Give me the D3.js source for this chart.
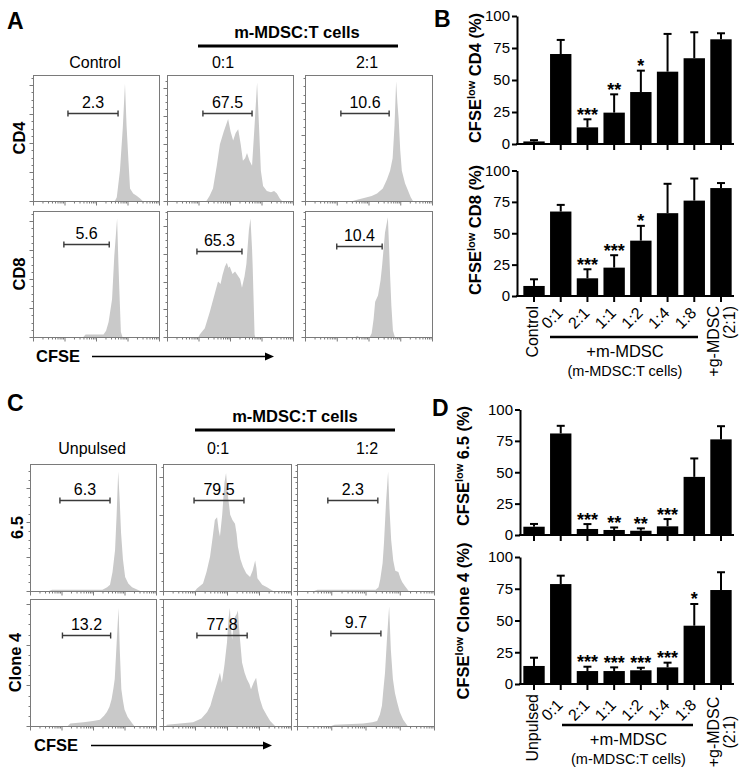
<!DOCTYPE html>
<html><head><meta charset="utf-8">
<script src="https://cdn.jsdelivr.net/npm/d3@7"></script>
<style>
body{margin:0;background:#fff}
svg{display:block}
text{font-family:"Liberation Sans",Arial,Helvetica,sans-serif;fill:#000}
</style>
</head><body>
<svg id="c" width="751" height="778"></svg>
<script>
// ================= DATA =================
// Bar charts (B, D)
const yTickValues = [0, 25, 50, 75, 100];
const catsB = ["Control", "0:1", "2:1", "1:1", "1:2", "1:4", "1:8", "+g-MDSC"];
const catsD = ["Unpulsed", "0:1", "2:1", "1:1", "1:2", "1:4", "1:8", "+g-MDSC"];
const cd4Mean = [2, 70.3, 13, 24.5, 40.6, 56.5, 67, 81.8];
const cd4Err  = [1, 11, 6.3, 14.3, 16.7, 29.5, 20.3, 4.7];
const cd4Sig  = ["", "", "***", "**", "*", "", "", ""];
const cd8Mean = [8, 67.3, 14.1, 22.6, 44.1, 66, 76, 86];
const cd8Err  = [5.3, 5.3, 7.2, 9.9, 11.8, 23.4, 17.6, 4];
const cd8Sig  = ["", "", "***", "***", "*", "", "", ""];
const t65Mean = [6.6, 80.9, 4.8, 4, 3.4, 6.9, 46.3, 76.2];
const t65Err  = [2.2, 6.1, 3.9, 2, 1.9, 5.8, 14.7, 10.5];
const t65Sig  = ["", "", "***", "**", "**", "***", "", ""];
const c4Mean  = [14.2, 78.7, 10.2, 10.2, 10.8, 13.1, 45.9, 74];
const c4Err   = [6.5, 6.6, 3.4, 2.9, 2, 3.7, 17.1, 14];
const c4Sig   = ["", "", "***", "***", "***", "***", "*", ""];

// Histograms: [log10 CFSE (decades 0-4), relative count %]
const histCD4Control = [[2.6,0],[2.66,3],[2.76,24],[2.85,58],[2.92,93],[2.97,60],[3.03,32],[3.08,10],[3.18,6],[3.3,4],[3.4,2],[3.48,0]];
const histCD4_01 = [[1.25,0],[1.35,4],[1.46,10],[1.58,28],[1.68,45],[1.8,55],[1.94,65],[2.02,55],[2.1,48],[2.18,54],[2.26,57],[2.34,45],[2.41,32],[2.48,34],[2.54,38],[2.62,32],[2.7,28],[2.78,60],[2.86,94],[2.92,60],[2.98,24],[3.05,12],[3.17,8],[3.3,7],[3.4,8],[3.49,6],[3.58,2],[3.65,0]];
const histCD4_21 = [[1.5,0],[1.64,1],[1.95,3],[2.1,4],[2.27,6],[2.45,10],[2.58,17],[2.68,24],[2.76,34],[2.82,60],[2.87,95],[2.91,78],[2.95,65],[3.0,40],[3.05,24],[3.15,14],[3.25,8],[3.33,3],[3.4,0]];
const histCD8Control = [[1.6,0],[1.67,2],[2.24,2],[2.32,5],[2.4,12],[2.51,30],[2.58,64],[2.67,94],[2.71,60],[2.74,38],[2.79,4],[2.84,0]];
const histCD8_01 = [[1.0,0],[1.04,2],[1.2,7],[1.36,20],[1.5,33],[1.62,44],[1.7,42],[1.76,49],[1.84,56],[1.9,59],[1.95,55],[1.99,56],[2.08,50],[2.16,52],[2.24,49],[2.32,46],[2.38,39],[2.46,48],[2.52,58],[2.6,85],[2.65,94],[2.7,70],[2.72,56],[2.76,20],[2.78,2],[2.8,0]];
const histCD8_21 = [[1.6,0],[1.64,1],[1.7,0],[2.04,0],[2.1,3],[2.16,14],[2.21,28],[2.3,33],[2.38,45],[2.43,57],[2.52,83],[2.61,95],[2.65,70],[2.68,49],[2.72,25],[2.77,5],[2.83,0]];
const hist65Unpulsed = [[0.6,0],[0.7,1],[2.3,1],[2.45,3],[2.54,5],[2.62,15],[2.7,32],[2.75,60],[2.8,94],[2.85,70],[2.89,46],[2.95,25],[3.02,11],[3.12,6],[3.24,3],[3.5,0]];
const hist65_01 = [[1.0,0],[1.06,2],[1.25,6],[1.36,15],[1.47,27],[1.55,42],[1.62,56],[1.69,58],[1.74,48],[1.78,43],[1.85,60],[1.92,85],[1.97,93],[2.03,75],[2.1,60],[2.17,56],[2.25,53],[2.3,45],[2.34,35],[2.42,25],[2.5,19],[2.6,14],[2.72,11],[2.8,16],[2.88,24],[2.92,18],[2.95,10],[3.1,5],[3.25,3],[3.44,0]];
const hist65_12 = [[0.5,0],[0.6,1],[2.3,1],[2.38,3],[2.43,9],[2.5,22],[2.54,38],[2.6,70],[2.66,94],[2.7,65],[2.75,40],[2.81,24],[2.87,16],[2.96,15],[3.02,10],[3.07,7],[3.15,4],[3.26,0]];
const histC4Unpulsed = [[1.2,0],[1.28,2],[1.7,3],[2.0,4],[2.22,5],[2.35,8],[2.44,11],[2.52,15],[2.59,21],[2.65,30],[2.69,37],[2.75,65],[2.81,93],[2.85,60],[2.9,29],[2.95,20],[3.0,13],[3.1,7],[3.22,3],[3.31,0]];
const histC4_01 = [[0.1,0],[0.12,1],[0.94,3],[1.2,6],[1.38,11],[1.48,16],[1.56,23],[1.68,33],[1.78,42],[1.84,34],[1.92,48],[2.0,66],[2.05,85],[2.09,93],[2.13,75],[2.16,68],[2.2,78],[2.25,86],[2.3,88],[2.34,91],[2.4,70],[2.47,50],[2.55,42],[2.62,37],[2.7,33],[2.75,29],[2.83,34],[2.91,38],[2.97,28],[3.03,21],[3.12,14],[3.25,8],[3.35,4],[3.5,0]];
const histC4_12 = [[1.0,0],[1.1,1],[1.93,2],[2.2,3],[2.34,4],[2.42,9],[2.48,16],[2.52,28],[2.57,42],[2.63,70],[2.69,94],[2.74,60],[2.8,37],[2.86,26],[2.92,19],[3.0,11],[3.1,5],[3.23,0]];

const rowsA = ["CD4", "CD8"];
const colsA = ["Control", "0:1", "2:1"];
const rowsC = ["6.5", "Clone 4"];
const colsC = ["Unpulsed", "0:1", "1:2"];
const gateLabelsA = [["2.3", "67.5", "10.6"], ["5.6", "65.3", "10.4"]];
const gateLabelsC = [["6.3", "79.5", "2.3"], ["13.2", "77.8", "9.7"]];
// gate [from decade, to decade, height %]
const gatesA = [[[1.11,2.70,70],[1.14,2.70,70],[1.13,2.65,70]], [[0.98,2.42,74],[0.95,2.38,68],[1.0,2.43,72]]];
const gatesC = [[[0.95,2.54,72],[0.97,2.53,72],[0.9,2.36,72]], [[1.03,2.56,72],[1.06,2.63,72],[0.99,2.45,73]]];

// ================= DRAWING =================
const svg = d3.select("#c");
svg.append("rect").attr("width", 751).attr("height", 778).attr("fill", "#fff");

function drawHistBox(x, y, w, h, data, gate, gateLabel, step) {
  const g = svg.append("g");
  const xs = d3.scaleLinear().domain([0, 4]).range([x, x + w]);
  const ys = d3.scaleLinear().domain([0, 100]).range([y + h, y]);
  const area = d3.area().x(d => xs(d[0])).y0(ys(0)).y1(d => ys(d[1]));
  g.append("path").datum(data).attr("d", area).attr("fill", "#c9c9c9");
  g.append("rect").attr("x", x + 0.5).attr("y", y + 0.5).attr("width", w).attr("height", h)
    .attr("fill", "none").attr("stroke", "#7a7a7a").attr("stroke-width", 1);
  // bottom log ticks
  const bt = [];
  for (let dd = 0; dd < 4; dd++) for (let k = 1; k < 10; k++) bt.push([dd + Math.log10(k), k === 1]);
  bt.push([4, true]);
  g.selectAll(null).data(bt).join("line")
    .attr("x1", d => xs(d[0]) + 0.5).attr("x2", d => xs(d[0]) + 0.5)
    .attr("y1", y + h + 0.5).attr("y2", d => y + h + (d[1] ? 4.5 : 2.5))
    .attr("stroke", "#7a7a7a").attr("stroke-width", 1);
  // left ticks
  const lt = [];
  for (let v = 0, i = 0; v <= 100.01; v += step / 4, i++) lt.push([v, i % 4 === 0]);
  g.selectAll(null).data(lt).join("line")
    .attr("x1", x + 0.5).attr("x2", d => x + 0.5 - (d[1] ? 4 : 2))
    .attr("y1", d => Math.round(ys(d[0])) + 0.5).attr("y2", d => Math.round(ys(d[0])) + 0.5)
    .attr("stroke", "#7a7a7a").attr("stroke-width", 1);
  // gate
  const gy = Math.round(ys(gate[2])) + 0.5;
  const gx0 = xs(gate[0]), gx1 = xs(gate[1]);
  g.append("line").attr("x1", gx0).attr("x2", gx1).attr("y1", gy).attr("y2", gy)
    .attr("stroke", "#3a3a3a").attr("stroke-width", 1.4);
  [gx0, gx1].forEach(gx => g.append("line").attr("x1", gx).attr("x2", gx)
    .attr("y1", gy - 3).attr("y2", gy + 3).attr("stroke", "#3a3a3a").attr("stroke-width", 1.4));
  g.append("text").attr("x", (gx0 + gx1) / 2).attr("y", gy - 5.5).attr("text-anchor", "middle")
    .attr("font-size", 16).text(gateLabel);
}

function histPanel(cfg) {
  cfg.rows.forEach((rn, r) => {
    cfg.cols.forEach((cn, c) => {
      drawHistBox(cfg.xs[c], cfg.ys[r], cfg.ws[c], cfg.h, cfg.hists[r][c], cfg.gates[r][c], cfg.labels[r][c], cfg.steps[r][c]);
    });
    svg.append("text").attr("transform", `translate(${cfg.rowX[r]},${cfg.ys[r] + cfg.h / 2}) rotate(-90)`)
      .attr("text-anchor", "middle").attr("font-size", 16.5).attr("font-weight", "bold").text(rn);
  });
  cfg.cols.forEach((cn, c) => {
    svg.append("text").attr("x", cfg.colX[c]).attr("y", cfg.colY).attr("text-anchor", "middle")
      .attr("font-size", 16).text(cn);
  });
  // group header
  svg.append("text").attr("x", cfg.hdrX).attr("y", cfg.hdrY).attr("text-anchor", "middle")
    .attr("font-size", 16.5).attr("font-weight", "bold").text("m-MDSC:T cells");
  svg.append("line").attr("x1", cfg.hdrLine[0]).attr("x2", cfg.hdrLine[1]).attr("y1", cfg.hdrY + 8).attr("y2", cfg.hdrY + 8)
    .attr("stroke", "#000").attr("stroke-width", 3);
  // CFSE arrow
  svg.append("text").attr("x", cfg.cfse[0]).attr("y", cfg.cfse[1]).attr("font-size", 16.5).attr("font-weight", "bold").text("CFSE");
  const ay = cfg.cfse[1] - 5.5;
  svg.append("line").attr("x1", cfg.arrow[0]).attr("x2", cfg.arrow[1] - 8).attr("y1", ay).attr("y2", ay)
    .attr("stroke", "#000").attr("stroke-width", 1.6);
  svg.append("path").attr("d", `M${cfg.arrow[1] - 9},${ay - 4}L${cfg.arrow[1]},${ay}L${cfg.arrow[1] - 9},${ay + 4}Z`).attr("fill", "#000");
  svg.append("text").attr("x", cfg.letter[0]).attr("y", cfg.letter[1]).attr("font-size", 23).attr("font-weight", "bold").text(cfg.letterText);
}

histPanel({
  rows: rowsA, cols: colsA, labels: gateLabelsA, gates: gatesA,
  hists: [[histCD4Control, histCD4_01, histCD4_21], [histCD8Control, histCD8_01, histCD8_21]],
  xs: [33, 167, 305], ws: [126, 126, 127], ys: [75, 211], h: 126,
  steps: [[23, 22.5, 26], [23, 22, 22]],
  rowX: [25, 25], colX: [95, 223, 367], colY: 68,
  hdrX: 297, hdrY: 38, hdrLine: [198, 398],
  cfse: [36, 362], arrow: [92, 274], letter: [7, 29], letterText: "A"
});
histPanel({
  rows: rowsC, cols: colsC, labels: gateLabelsC, gates: gatesC,
  hists: [[hist65Unpulsed, hist65_01, hist65_12], [histC4Unpulsed, histC4_01, histC4_12]],
  xs: [30, 163, 297], ws: [126, 128, 137], ys: [464, 599], h: 127,
  steps: [[27, 30, 18], [32, 25, 21]],
  rowX: [23, 21], colX: [92, 218, 367], colY: 454,
  hdrX: 295, hdrY: 422, hdrLine: [195, 395],
  cfse: [34, 751], arrow: [91, 272], letter: [7, 411], letterText: "C"
});

// ---------- bar charts ----------
function barChart(cfg) {
  const g = svg.append("g");
  const x = d3.scaleBand().domain(cfg.cats).range([518, 737]).paddingInner(0.2).paddingOuter(0.2);
  const y = d3.scaleLinear().domain([0, 100]).range([cfg.y0, cfg.y100]);
  const data = cfg.cats.map((c, i) => ({ c, m: cfg.mean[i], e: cfg.err[i], s: cfg.sig[i] }));
  const cx = d => x(d.c) + x.bandwidth() / 2;
  g.selectAll(null).data(data).join("rect")
    .attr("x", d => x(d.c)).attr("y", d => y(d.m)).attr("width", x.bandwidth())
    .attr("height", d => y(0) - y(d.m)).attr("fill", "#000");
  g.selectAll(null).data(data).join("line")
    .attr("x1", cx).attr("x2", cx).attr("y1", d => y(d.m)).attr("y2", d => y(d.m + d.e))
    .attr("stroke", "#000").attr("stroke-width", 2);
  g.selectAll(null).data(data).join("line")
    .attr("x1", d => cx(d) - 4).attr("x2", d => cx(d) + 4).attr("y1", d => y(d.m + d.e)).attr("y2", d => y(d.m + d.e))
    .attr("stroke", "#000").attr("stroke-width", 2);
  g.selectAll(null).data(data.filter(d => d.s)).join("text")
    .attr("x", cx).attr("y", d => y(d.m + d.e) + 1.5).attr("text-anchor", "middle")
    .attr("font-size", 18).attr("font-weight", "bold").text(d => d.s);
  // y axis
  const ya = g.append("g").attr("transform", `translate(${cfg.ax},0)`)
    .call(d3.axisLeft(y).tickValues(yTickValues).tickSize(5).tickSizeOuter(0).tickPadding(2));
  ya.selectAll("path,line").attr("stroke", "#000").attr("stroke-width", 2);
  ya.selectAll("text").attr("font-size", 15).attr("font-family", '"Liberation Sans",Arial,sans-serif').attr("fill", "#000");
  // x axis
  const xa = g.append("g").attr("transform", `translate(0,${cfg.y0})`)
    .call(d3.axisBottom(x).tickSize(6).tickSizeOuter(0).tickFormat(""));
  xa.select(".domain").remove();
  xa.selectAll("line").attr("stroke", "#000").attr("stroke-width", 2);
  g.append("line").attr("x1", cfg.ax - 1).attr("x2", 734).attr("y1", cfg.y0).attr("y2", cfg.y0)
    .attr("stroke", "#000").attr("stroke-width", 2);
  // y label
  const yl = g.append("text").attr("transform", `translate(${cfg.labX},${cfg.labY}) rotate(-90)`)
    .attr("text-anchor", "middle").attr("font-size", 16.5).attr("font-weight", "bold");
  yl.append("tspan").text("CFSE");
  yl.append("tspan").attr("font-size", 11).attr("dy", -6).text("low");
  yl.append("tspan").attr("dy", 6).text(" " + cfg.label + " (%)");
  if (cfg.letter) g.append("text").attr("x", cfg.letter[0]).attr("y", cfg.letter[1]).attr("font-size", 23).attr("font-weight", "bold").text(cfg.letter[2]);
  if (cfg.xlabels) {
    const y0 = cfg.y0;
    const cats = cfg.cats;
    // first (vertical)
    g.append("text").attr("transform", `translate(${x(cats[0]) + x.bandwidth() / 2 + 4},${y0 + 10}) rotate(-90)`)
      .attr("text-anchor", "end").attr("font-size", 16).text(cats[0]);
    // ratios
    cats.slice(1, 7).forEach(c => {
      g.append("text").attr("transform", `translate(${x(c) + x.bandwidth() / 2 + 3},${y0 + cfg.ratioOff}) rotate(-45)`)
        .attr("text-anchor", "end").attr("font-size", 16).text(c);
    });
    // last
    const lx = x(cats[7]) + x.bandwidth() / 2;
    const anchor = cfg.lastCentered ? "middle" : "end";
    const ly = cfg.lastCentered ? y0 + 48 : y0 + 10;
    g.append("text").attr("transform", `translate(${lx - 2},${ly}) rotate(-90)`)
      .attr("text-anchor", anchor).attr("font-size", 16).text(cats[7]);
    g.append("text").attr("transform", `translate(${lx + 14},${ly}) rotate(-90)`)
      .attr("text-anchor", anchor).attr("font-size", 16).text("(2:1)");
    // group
    g.append("line").attr("x1", cfg.grp[0]).attr("x2", cfg.grp[1]).attr("y1", cfg.grp[2]).attr("y2", cfg.grp[2])
      .attr("stroke", "#000").attr("stroke-width", 2.5);
    const gxm = (cfg.grp[0] + cfg.grp[1]) / 2 + 1;
    g.append("text").attr("x", gxm).attr("y", cfg.grp[2] + 20).attr("text-anchor", "middle").attr("font-size", 16.5).text("+m-MDSC");
    g.append("text").attr("x", gxm).attr("y", cfg.grp[2] + 39).attr("text-anchor", "middle").attr("font-size", 14.5).text("(m-MDSC:T cells)");
  }
}

barChart({ cats: catsB, mean: cd4Mean, err: cd4Err, sig: cd4Sig, y0: 144, y100: 16, ax: 517,
  label: "CD4", labX: 481, labY: 78, letter: [434, 27, "B"] });
barChart({ cats: catsB, mean: cd8Mean, err: cd8Err, sig: cd8Sig, y0: 296, y100: 170.5, ax: 517,
  label: "CD8", labX: 481, labY: 230, xlabels: true, ratioOff: 18, grp: [550, 698, 337] });
barChart({ cats: catsD, mean: t65Mean, err: t65Err, sig: t65Sig, y0: 535, y100: 409.5, ax: 520,
  label: "6.5", labX: 469, labY: 466, letter: [432, 416, "D"] });
barChart({ cats: catsD, mean: c4Mean, err: c4Err, sig: c4Sig, y0: 684, y100: 557, ax: 520,
  label: "Clone 4", labX: 469, labY: 621, xlabels: true, ratioOff: 22, lastCentered: true, grp: [562, 693, 725] });
</script>
</body></html>
